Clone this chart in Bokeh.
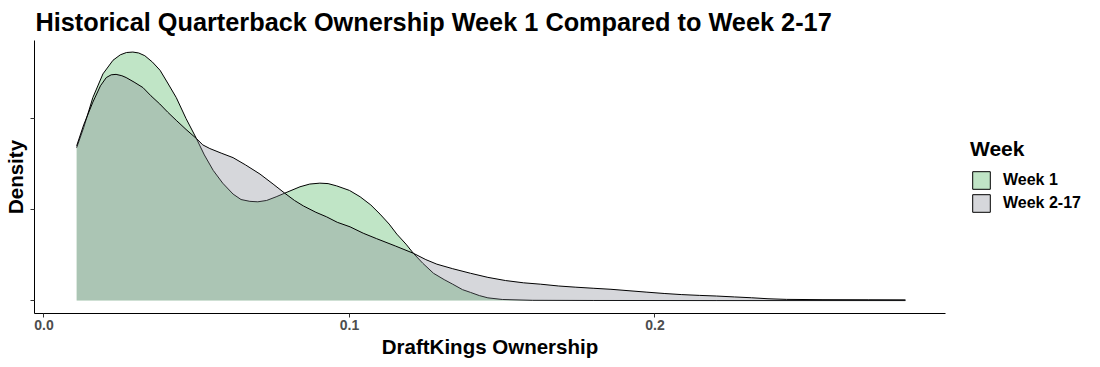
from bokeh.plotting import figure
from bokeh.models import Range1d, Legend, LegendItem, FixedTicker, NumeralTickFormatter, ColumnDataSource
from bokeh.embed import file_html
from bokeh.resources import INLINE

# ---- data ----
week1_x = [0.0107, 0.0130, 0.0160, 0.0193, 0.0226, 0.0250, 0.0270, 0.0291, 0.0310, 0.0330,
           0.0355, 0.0380, 0.0405, 0.0433, 0.0465, 0.0499, 0.0525, 0.0554, 0.0585, 0.0619,
           0.0645, 0.0674, 0.0700, 0.0729, 0.0760, 0.0788, 0.0838, 0.0870, 0.0903, 0.0930,
           0.0958, 0.1000, 0.1035, 0.1070, 0.1100, 0.1130, 0.1155, 0.1185, 0.1209, 0.1240,
           0.1275, 0.1310, 0.1338, 0.1370, 0.1396, 0.1425, 0.1453, 0.1500, 0.1600, 0.1800,
           0.2200, 0.2820]
week1_d = [16.8, 19.0, 22.3, 24.9, 26.4, 27.0, 27.25, 27.3, 27.2, 26.9,
           26.2, 25.3, 23.9, 22.3, 20.0, 17.8, 16.0, 14.3, 12.9, 11.7,
           11.1, 10.9, 10.85, 11.0, 11.4, 11.8, 12.5, 12.8, 12.9, 12.85,
           12.6, 12.1, 11.4, 10.5, 9.5, 8.4, 7.3, 6.2, 5.2, 4.1,
           3.0, 2.3, 1.8, 1.2, 0.9, 0.55, 0.3, 0.12, 0.03, 0.01,
           0.0, 0.0]

week217_x = [0.0107, 0.0130, 0.0160, 0.0185, 0.0204, 0.0220, 0.0236, 0.0255, 0.0269, 0.0295,
             0.0324, 0.0350, 0.0379, 0.0405, 0.0433, 0.0465, 0.0499, 0.0520, 0.0543, 0.0580,
             0.0619, 0.0660, 0.0707, 0.0750, 0.0788, 0.0820, 0.0849, 0.0890, 0.0925, 0.0960,
             0.1002, 0.1045, 0.1089, 0.1150, 0.1209, 0.1250, 0.1286, 0.1338, 0.1396, 0.1453,
             0.1511, 0.1570, 0.1626, 0.1685, 0.1741, 0.1800, 0.1856, 0.1915, 0.1971, 0.2030,
             0.2086, 0.2145, 0.2201, 0.2260, 0.2316, 0.2370, 0.2431, 0.2550, 0.2700, 0.2820]
week217_d = [17.0, 19.3, 21.8, 23.6, 24.5, 24.8, 24.85, 24.7, 24.5, 24.0,
             23.4, 22.5, 21.6, 20.7, 19.8, 18.8, 17.8, 17.1, 16.7, 16.2,
             15.7, 14.9, 13.9, 12.8, 11.8, 11.0, 10.4, 9.7, 9.2, 8.6,
             8.1, 7.4, 6.8, 6.0, 5.2, 4.5, 4.0, 3.5, 3.0, 2.55,
             2.2, 1.95, 1.8, 1.6, 1.47, 1.35, 1.24, 1.08, 0.93, 0.78,
             0.66, 0.57, 0.5, 0.4, 0.31, 0.2, 0.13, 0.1, 0.09, 0.08]

series_labels = ["Week 1", "Week 2-17"]
x_ticks = [0.0, 0.1, 0.2]
y_ticks = [0, 10, 20]

GREEN = (58, 174, 77)
GRAY = (127, 130, 142)
ALPHA = 0.32
FONT = "Liberation Sans"

p = figure(frame_width=911, frame_height=273, output_backend="svg", toolbar_location=None,
           x_range=Range1d(-0.0031, 0.2951), y_range=Range1d(-1.42, 28.57),
           min_border_left=26, min_border_right=147, min_border_top=32, min_border_bottom=46,
           title="Historical Quarterback Ownership Week 1 Compared to Week 2-17")

p.title.text_font = FONT
p.title.text_font_size = "25.3px"
p.title.text_font_style = "bold"
p.title.text_color = "black"
p.title.standoff = 10
p.title.offset = 1

p.grid.grid_line_color = None
p.outline_line_color = None
p.background_fill_color = "white"

# areas (ggplot order: group 1 then group 2, each fill then outline)
s1 = ColumnDataSource(dict(x=week1_x, y=week1_d))
s2 = ColumnDataSource(dict(x=week217_x, y=week217_d))
p.varea(x="x", y1=0, y2="y", source=s1, fill_color=GREEN, fill_alpha=ALPHA)
p.line(x="x", y="y", source=s1, line_color="black", line_width=1)
p.varea(x="x", y1=0, y2="y", source=s2, fill_color=GRAY, fill_alpha=ALPHA)
p.line(x="x", y="y", source=s2, line_color="black", line_width=1)

# legend key boxes (placed outside the visible range, only used for the legend)
q1 = p.quad(left=[-1.0], right=[-0.9], top=[-10], bottom=[-11], fill_color=GREEN, fill_alpha=ALPHA,
            line_color="black", line_width=1)
q2 = p.quad(left=[-1.0], right=[-0.9], top=[-10], bottom=[-11], fill_color=GRAY, fill_alpha=ALPHA,
            line_color="black", line_width=1)

legend = Legend(items=[LegendItem(label=series_labels[0], renderers=[q1]),
                       LegendItem(label=series_labels[1], renderers=[q2])],
                location=(25, 99), title="Week",
                title_text_font=FONT, title_text_font_size="21px", title_text_font_style="bold",
                title_text_color="black", title_standoff=8,
                label_text_font=FONT, label_text_font_size="16px", label_text_font_style="bold",
                label_text_color="black", label_standoff=11,
                glyph_width=22, glyph_height=22, label_height=22, spacing=1,
                padding=0, margin=0, border_line_alpha=0, background_fill_alpha=0)
p.add_layout(legend, "right")

# axes
for ax in (p.xaxis, p.yaxis):
    ax.axis_line_color = "black"
    ax.axis_line_width = 1
    ax.major_tick_line_color = "#333333"
    ax.major_tick_in = 0
    ax.major_tick_out = 4
    ax.minor_tick_line_color = None
    ax.axis_label_text_font = FONT
    ax.axis_label_text_font_size = "20.5px"
    ax.axis_label_text_font_style = "bold"
    ax.axis_label_text_color = "black"

p.xaxis.ticker = FixedTicker(ticks=x_ticks)
p.xaxis.formatter = NumeralTickFormatter(format="0.0")
p.xaxis.major_label_text_font = FONT
p.xaxis.major_label_text_font_size = "14px"
p.xaxis.major_label_text_font_style = "bold"
p.xaxis.major_label_text_color = "#4D4D4D"
p.xaxis.major_label_standoff = 2
p.xaxis.axis_label = "DraftKings Ownership"
p.xaxis.axis_label_standoff = 2

p.yaxis.ticker = FixedTicker(ticks=y_ticks)
p.yaxis.major_label_overrides = {0: "", 10: "", 20: ""}
p.yaxis.major_label_standoff = 0
p.yaxis.axis_label = "Density"
p.yaxis.axis_label_standoff = 4

open("out.html", "w").write(file_html(p, INLINE))
